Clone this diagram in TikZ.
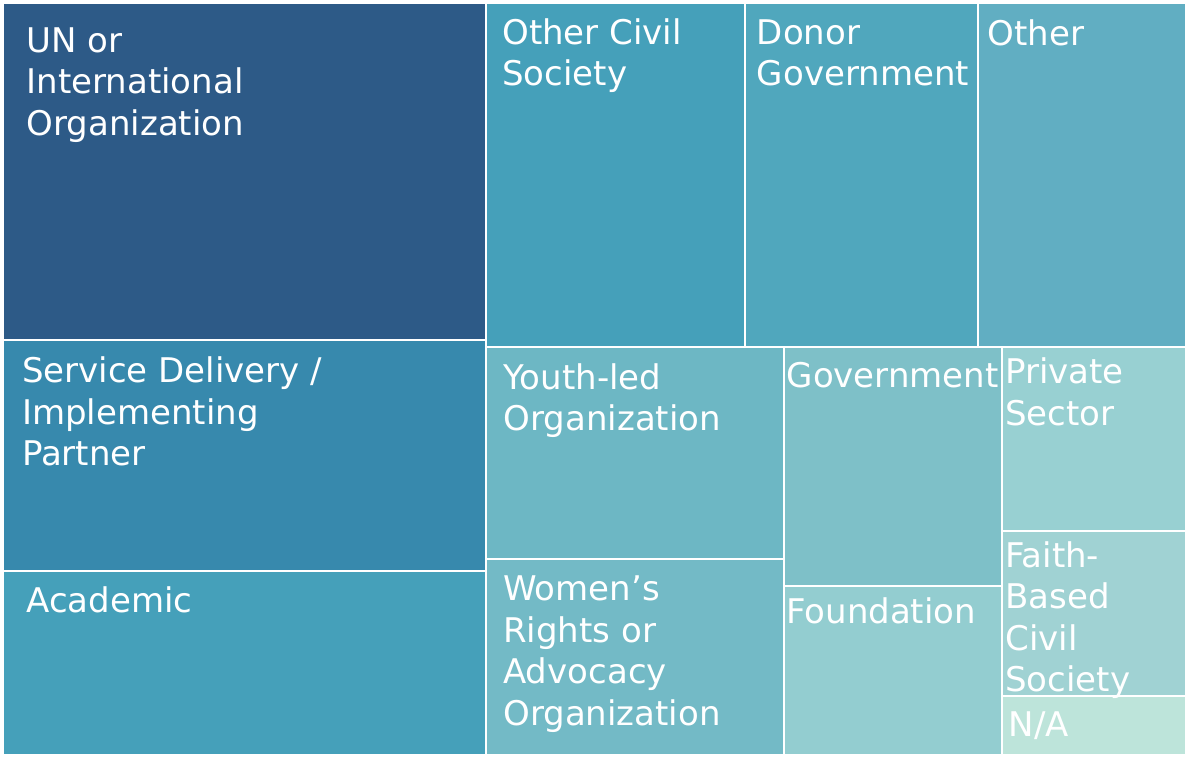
\documentclass[tikz,border=0pt]{standalone}
\usepackage{fontspec}
\setmainfont{DejaVu Sans}
\definecolor{cUN}{HTML}{2D5A87}
\definecolor{cService}{HTML}{3789AD}
\definecolor{cAcademic}{HTML}{45A0BA}
\definecolor{cCivil}{HTML}{45A0BA}
\definecolor{cDonor}{HTML}{50A7BD}
\definecolor{cOther}{HTML}{61AEC2}
\definecolor{cYouth}{HTML}{6DB7C4}
\definecolor{cWomen}{HTML}{73BAC6}
\definecolor{cGov}{HTML}{7EC0C8}
\definecolor{cFound}{HTML}{93CDD0}
\definecolor{cPrivate}{HTML}{98D0D2}
\definecolor{cFaith}{HTML}{A0D2D3}
\definecolor{cNA}{HTML}{BDE4DA}
\begin{document}
\begin{tikzpicture}[x=0.75pt,y=-0.75pt,
	cellbox/.style={draw=white,line width=1.1pt},
	celltext/.style={anchor=base west,inner sep=0pt,text=white,align=left,font=\fontsize{25.5}{31.1}\selectfont}]
	\useasboundingbox[fill=white] (0,0) rectangle (1187,757);
	%cells
	\foreach \xa/\ya/\xb/\yb/\col in {3/3/486/340/cUN, 3/340/486/571/cService, 3/571/486/755/cAcademic,
		486/3/745/347/cCivil, 745/3/978/347/cDonor, 978/3/1186/347/cOther,
		486/347/784/559/cYouth, 486/559/784/755/cWomen,
		784/347/1002/586/cGov, 784/586/1002/755/cFound,
		1002/347/1186/531/cPrivate, 1002/531/1186/696/cFaith, 1002/696/1186/755/cNA}
	\draw[cellbox,fill=\col] (\xa,\ya) rectangle (\xb,\yb);
	
	%labels (placed at the baseline of their last line)
	\node[celltext] (un) at (26.3,135) {UN or\\International\\Organization};
	\node[celltext] (service) at (21.8,465.5) {Service Delivery /\\Implementing\\Partner};
	\node[celltext] (academic) at (26.2,612.7) {Academic};
	\node[celltext] (civil) at (502,85.5) {Other Civil\\Society};
	\node[celltext] (donor) at (756.7,85.5) {Donor\\Government};
	\node[celltext] (other) at (987.4,45) {Other};
	\node[celltext] (youth) at (503.3,430.7) {Youth-led\\Organization};
	\node[celltext] (women) at (503,725) {Women’s\\Rights or\\Advocacy\\Organization};
	\node[celltext] (gov) at (786.4,387.3) {Government};
	\node[celltext] (found) at (786,623.3) {Foundation};
	\node[celltext] (private) at (1005,425) {Private\\Sector};
	\node[celltext] (faith) at (1005,691.8) {Faith-\\Based\\Civil\\Society};
	\node[celltext] (na) at (1008.4,736.7) {N/A};
\end{tikzpicture}
\end{document}
